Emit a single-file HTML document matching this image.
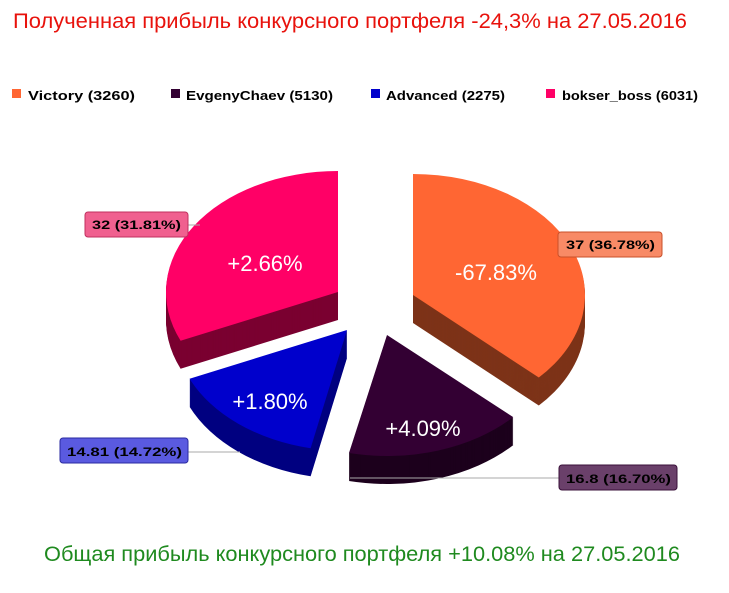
<!DOCTYPE html>
<html><head><meta charset="utf-8"><style>
body{margin:0;background:#fff;width:729px;height:588px;overflow:hidden;font-family:"Liberation Sans",sans-serif}
</style></head><body>
<svg id="s" width="729" height="588" xmlns="http://www.w3.org/2000/svg">
<text x="13" y="28" font-size="21" fill="#e8120c" font-family="Liberation Sans, sans-serif" textLength="674" lengthAdjust="spacingAndGlyphs">Полученная прибыль конкурсного портфеля -24,3% на 27.05.2016</text>
<text x="44" y="561" font-size="21" fill="#1f8a1f" font-family="Liberation Sans, sans-serif" textLength="636" lengthAdjust="spacingAndGlyphs">Общая прибыль конкурсного портфеля  +10.08% на 27.05.2016</text>
<g font-size="13" font-weight="bold" font-family="Liberation Sans, sans-serif" fill="#000">
<rect x="12" y="89" width="9" height="9" fill="#ff6633"/><text x="28" y="100" textLength="107" lengthAdjust="spacingAndGlyphs">Victory (3260)</text>
<rect x="171" y="89" width="9" height="9" fill="#330033"/><text x="186" y="100" textLength="147" lengthAdjust="spacingAndGlyphs">EvgenyChaev (5130)</text>
<rect x="371" y="89" width="9" height="9" fill="#0000cc"/><text x="386" y="100" textLength="119" lengthAdjust="spacingAndGlyphs">Advanced (2275)</text>
<rect x="546" y="89" width="9" height="9" fill="#ff0066"/><text x="562" y="100" textLength="136" lengthAdjust="spacingAndGlyphs">bokser_boss (6031)</text>
</g>
<g id="pie"></g>
<g stroke="#aaa" stroke-width="1"><line x1="188" y1="225" x2="200" y2="225"/><line x1="188" y1="452" x2="240" y2="452"/><line x1="350" y1="478" x2="559" y2="478"/></g>
<g font-size="12" font-weight="bold" font-family="Liberation Sans, sans-serif">
<rect x="558" y="232" width="104" height="25" rx="3" fill="#f88a66" stroke="#c8502a"/><text x="566" y="249" textLength="89" lengthAdjust="spacingAndGlyphs">37 (36.78%)</text>
<rect x="85" y="212" width="103" height="25" rx="3" fill="#f0608f" stroke="#c0305f"/><text x="92" y="229" textLength="89" lengthAdjust="spacingAndGlyphs">32 (31.81%)</text>
<rect x="60" y="438" width="128" height="25" rx="3" fill="#5a5ae0" stroke="#2a2aa0"/><text x="67" y="456" textLength="115" lengthAdjust="spacingAndGlyphs">14.81 (14.72%)</text>
<rect x="559" y="465" width="118" height="25" rx="3" fill="#6a406a" stroke="#3a103a"/><text x="566" y="483" textLength="105" lengthAdjust="spacingAndGlyphs">16.8 (16.70%)</text>
</g>
<g fill="#fff" font-size="22" font-family="Liberation Sans, sans-serif" text-anchor="middle">
<text x="265" y="271">+2.66%</text>
<text x="496" y="280">-67.83%</text>
<text x="270" y="409">+1.80%</text>
<text x="423" y="436">+4.09%</text>
</g>
</svg>
<script>
var g=document.getElementById('pie'),NS='http://www.w3.org/2000/svg',RX=172,RY=121,D=28;
function pt(c,a){return [c[0]+RX*Math.cos(a),c[1]+RY*Math.sin(a)];}
function path(c,a1,a2,dy){var p1=pt(c,a1),p2=pt(c,a2),large=(a2-a1)>Math.PI?1:0;
return 'M'+c[0]+','+(c[1]+dy)+' L'+p1[0]+','+(p1[1]+dy)+' A'+RX+','+RY+' 0 '+large+' 1 '+p2[0]+','+(p2[1]+dy)+' Z';}
function ang(c,p){return Math.atan2((p[1]-c[1])/RY,(p[0]-c[0])/RX);}
function slice(c,p1,p2,top,side){var a1=ang(c,p1),a2=ang(c,p2);while(a2<a1)a2+=2*Math.PI;
for(var i=D;i>=1;i--){var e=document.createElementNS(NS,'path');e.setAttribute('d',path(c,a1,a2,i));e.setAttribute('fill',side);g.appendChild(e);}
var e=document.createElementNS(NS,'path');e.setAttribute('d',path(c,a1,a2,0));e.setAttribute('fill',top);g.appendChild(e);}
slice([338,292],[183,340],[338,171],'#ff0066','#7a0030');
slice([413,295],[413,174],[538,377],'#ff6633','#7d3318');
slice([387,335],[513,417],[349,453],'#330033','#1c001c');
slice([347,330],[311,447],[192,378],'#0000cc','#000080');
</script>
</body></html>
